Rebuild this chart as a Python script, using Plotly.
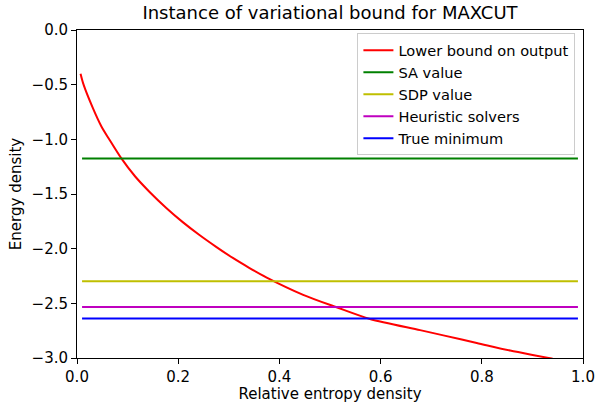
import plotly.graph_objects as go

# Lower bound curve
bound_x = [0.007, 0.013, 0.031, 0.048, 0.063, 0.087, 0.115, 0.143, 0.177, 0.209, 0.242,
           0.275, 0.308, 0.341, 0.374, 0.447, 0.513, 0.579, 0.678, 0.724, 0.790,
           0.856, 0.935, 0.99]
bound_y = [-0.40, -0.50, -0.71, -0.88, -0.995, -1.17, -1.34, -1.479, -1.63, -1.757, -1.875,
           -1.983, -2.085, -2.177, -2.262, -2.422, -2.536, -2.643, -2.745, -2.793, -2.862,
           -2.932, -3.003, -3.06]

line_x = [0.01, 0.99]
sa_value = -1.175
sdp_value = -2.298
heuristic_value = -2.533
true_minimum = -2.638

x_ticks = [0.0, 0.2, 0.4, 0.6, 0.8, 1.0]
x_ticklabels = ["0.0", "0.2", "0.4", "0.6", "0.8", "1.0"]
y_ticks = [0.0, -0.5, -1.0, -1.5, -2.0, -2.5, -3.0]
y_ticklabels = ["0.0", "\u22120.5", "\u22121.0", "\u22121.5", "\u22122.0", "\u22122.5", "\u22123.0"]

FONT = "DejaVu Sans"

fig = go.Figure()
fig.add_trace(go.Scatter(x=bound_x, y=bound_y, mode="lines", name="Lower bound on output",
                         line=dict(color="#FF0000", width=2, shape="spline", smoothing=0.8)))
fig.add_trace(go.Scatter(x=line_x, y=[sa_value] * 2, mode="lines", name="SA value",
                         line=dict(color="#008000", width=2)))
fig.add_trace(go.Scatter(x=line_x, y=[sdp_value] * 2, mode="lines", name="SDP value",
                         line=dict(color="#BFBF00", width=2)))
fig.add_trace(go.Scatter(x=line_x, y=[heuristic_value] * 2, mode="lines", name="Heuristic solvers",
                         line=dict(color="#BF00BF", width=2)))
fig.add_trace(go.Scatter(x=line_x, y=[true_minimum] * 2, mode="lines", name="True minimum",
                         line=dict(color="#0000FF", width=2)))

axis_common = dict(showgrid=False, zeroline=False, showline=True, linecolor="black", linewidth=1,
                   mirror=True, ticks="outside", ticklen=5, tickcolor="black", tickwidth=1,
                   automargin=False,
                   tickfont=dict(family=FONT, size=15, color="black"))

fig.update_layout(
    width=597, height=403,
    margin=dict(l=77, r=14, t=30, b=45),
    paper_bgcolor="white", plot_bgcolor="white",
    font=dict(family=FONT, color="black"),
    title=dict(text="Instance of variational bound for MAXCUT", x=0.5, xanchor="center",
               xref="paper", y=0.968, yanchor="middle",
               font=dict(family=FONT, size=18, color="black")),
    xaxis=dict(range=[0, 1], tickvals=x_ticks, ticktext=x_ticklabels,
               title=dict(text="Relative entropy density", font=dict(family=FONT, size=15), standoff=4),
               **axis_common),
    yaxis=dict(range=[-3, 0], tickvals=y_ticks, ticktext=y_ticklabels,
               title=dict(text="Energy density", font=dict(family=FONT, size=15), standoff=6),
               **axis_common),
    legend=dict(x=0.985, y=0.99, xanchor="right", yanchor="top",
                bgcolor="rgba(255,255,255,0.8)", bordercolor="#CCCCCC", borderwidth=1,
                font=dict(family=FONT, size=14.6, color="black"), itemwidth=30,
                tracegroupgap=0),
    showlegend=True,
)

fig.write_html("out.html", config={"displayModeBar": False},
               post_script="document.body.style.margin='0';")
